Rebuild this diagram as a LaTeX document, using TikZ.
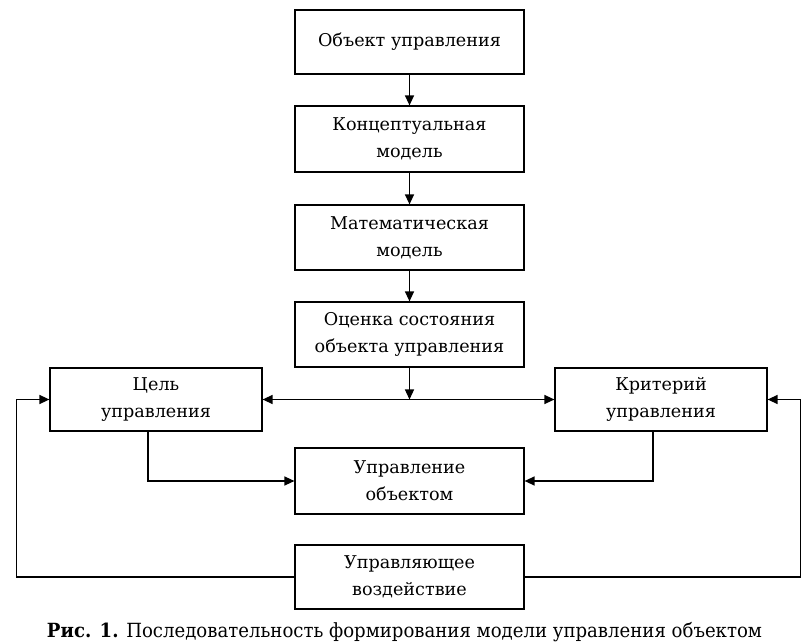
\documentclass[tikz,border=0pt]{standalone}
\usepackage{fontspec}
\setmainfont{DejaVu Serif}
\usetikzlibrary{arrows.meta}
\begin{document}
\begin{tikzpicture}[x=1pt,y=-1pt,
  box/.style={draw, line width=1.2pt, minimum width=229pt, minimum height=64pt, align=center, font=\fontsize{17.6}{27}\selectfont, inner sep=0pt},
  sidebox/.style={box, minimum width=212pt, minimum height=63pt},
  conn/.style={line width=1.3pt, -{Triangle[length=10pt,width=9pt]}},
  conn2/.style={line width=1.3pt, {Triangle[length=10pt,width=9pt]}-{Triangle[length=10pt,width=9pt]}}]
\useasboundingbox (0,0) rectangle (809,644);
\node[box] (obj) at (409.5,42) {Объект управления};
\node[box, minimum height=66pt] (konc) at (409.5,139) {Концептуальная\\модель};
\node[box, minimum height=65pt] (mat) at (409.5,237.5) {Математическая\\модель};
\node[box, minimum height=65pt] (ocen) at (409.5,334.5) {Оценка состояния\\объекта управления};
\node[sidebox] (cel) at (156,399.5) {Цель\\управления};
\node[sidebox] (krit) at (661,399.5) {Критерий\\управления};
\node[box, minimum height=66pt] (upr) at (409.5,481) {Управление\\объектом};
\node[box] (vozd) at (409.5,577) {Управляющее\\воздействие};
\coordinate (j) at (ocen.south |- cel.east);
\draw[conn] (obj) -- (konc);
\draw[conn] (konc) -- (mat);
\draw[conn] (mat) -- (ocen);
\draw[conn] (ocen) -- (j);
\draw[conn2] (cel.east) -- (krit.west);
\draw[conn] ([xshift=-8pt]cel.south) |- (upr.west);
\draw[conn] ([xshift=-8pt]krit.south) |- (upr.east);
\draw[conn] (vozd.west) -| ([xshift=-33pt]cel.west) -- (cel.west);
\draw[conn] (vozd.east) -| ([xshift=33pt]krit.east) -- (krit.east);
\node[font=\fontsize{19.5}{22}\selectfont, inner sep=0pt] (cap) at (404.5,632) {\resizebox{715pt}{\height}{\textbf{Рис. 1.} Последовательность формирования модели управления объектом}};
\end{tikzpicture}
\end{document}
